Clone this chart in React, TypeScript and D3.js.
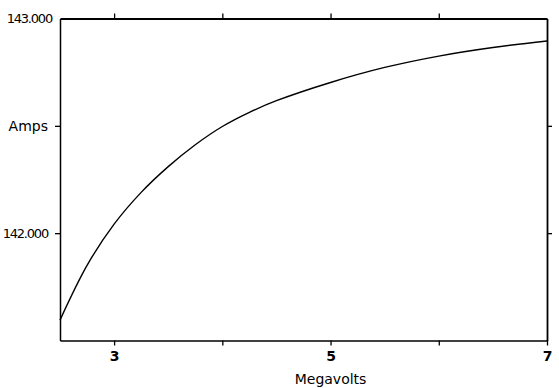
import * as d3 from "d3";
import { useEffect, useRef } from "react";

// values
const voltages = [2.5, 2.75, 3, 3.25, 3.5, 3.75, 4, 4.25, 4.5, 5, 5.5, 6, 6.5, 7];
const amps = [
  141.595, 141.85, 142.042, 142.19, 142.31, 142.412, 142.497, 142.563, 142.617,
  142.702, 142.772, 142.825, 142.865, 142.895,
];
const xTicks = [3, 4, 5, 6, 7];
const xLabels = [3, 5, 7];
const yTicks = [142, 142.5, 143];
const yLabels = ["142.000", "Amps", "143.000"];

const width = 559;
const height = 388;

const App = () => {
  const svgRef = useRef(null);

  useEffect(() => {
    const svg = d3.select(svgRef.current);
    svg.selectAll("*").remove();

    const margin = { top: 18.5, right: 12, bottom: 47.5, left: 60 };

    const x = d3
      .scaleLinear()
      .domain([2.5, 7])
      .range([margin.left, width - margin.right]);

    const y = d3
      .scaleLinear()
      .domain([141.5, 143])
      .range([height - margin.bottom, margin.top]);

    const font = "DejaVu Sans, sans-serif";

    // bottom axis, ticks outward, labels only at 3, 5, 7
    svg
      .append("g")
      .attr("transform", `translate(0,${y(141.5)})`)
      .call(
        d3
          .axisBottom(x)
          .tickValues(xTicks)
          .tickSize(5)
          .tickSizeOuter(0)
          .tickFormat((d) => (xLabels.includes(+d) ? String(d) : ""))
      )
      .call((g) => g.select(".domain").attr("stroke-width", 1.5))
      .call((g) => g.selectAll(".tick line").attr("stroke-width", 1.3))
      .call((g) =>
        g
          .selectAll(".tick text")
          .attr("font-family", font)
          .attr("font-size", 14)
          .attr("font-weight", "bold")
          .attr("fill", "#000")
          .attr("dy", "0.9em")
      );

    // top axis mirrored
    svg
      .append("g")
      .attr("transform", `translate(0,${y(143)})`)
      .call(d3.axisTop(x).tickValues(xTicks.slice(0, 4)).tickSize(5).tickSizeOuter(0).tickFormat(() => ""))
      .call((g) => g.select(".domain").attr("stroke-width", 2.2))
      .call((g) => g.selectAll(".tick line").attr("stroke-width", 1.3));

    // left axis
    svg
      .append("g")
      .attr("transform", `translate(${x(2.5)},0)`)
      .call(
        d3
          .axisLeft(y)
          .tickValues(yTicks)
          .tickSize(5)
          .tickSizeOuter(0)
          .tickFormat((d, i) => yLabels[i])
      )
      .call((g) => g.select(".domain").attr("stroke-width", 1.5))
      .call((g) => g.selectAll(".tick line").attr("stroke-width", 1.3))
      .call((g) => g.selectAll(".tick").filter((d) => d === 143).select("line").remove())
      .call((g) =>
        g
          .selectAll(".tick text")
          .attr("font-family", font)
          .attr("font-size", (d) => (d === 142.5 ? 14 : 13))
          .attr("letter-spacing", (d) => (d === 142.5 ? 0 : -1.2))
          .attr("fill", "#000")
          .attr("x", (d) => (d === 143 ? -8 : -12))
      );

    // right axis
    svg
      .append("g")
      .attr("transform", `translate(${x(7)},0)`)
      .call(d3.axisRight(y).tickValues([142, 142.5]).tickSize(5).tickSizeOuter(0).tickFormat(() => ""))
      .call((g) => g.select(".domain").attr("stroke-width", 1.8))
      .call((g) => g.selectAll(".tick line").attr("stroke-width", 1.3));

    // axis title
    svg
      .append("text")
      .attr("x", x(5))
      .attr("y", 384)
      .attr("text-anchor", "middle")
      .attr("font-family", font)
      .attr("font-size", 14)
      .attr("fill", "#000")
      .text("Megavolts");

    const line = d3
      .line<number>()
      .x((d, i) => x(voltages[i]))
      .y((d) => y(d))
      .curve(d3.curveCatmullRom.alpha(0.5));

    svg
      .append("path")
      .datum(amps)
      .attr("fill", "none")
      .attr("stroke", "#000")
      .attr("stroke-width", 1.4)
      .attr("d", line as any);
  }, []);

  return (
    <svg
      ref={svgRef}
      width={width}
      height={height}
      style={{ position: "absolute", left: 0, top: 0, background: "#fff" }}
    />
  );
};

export default App;
